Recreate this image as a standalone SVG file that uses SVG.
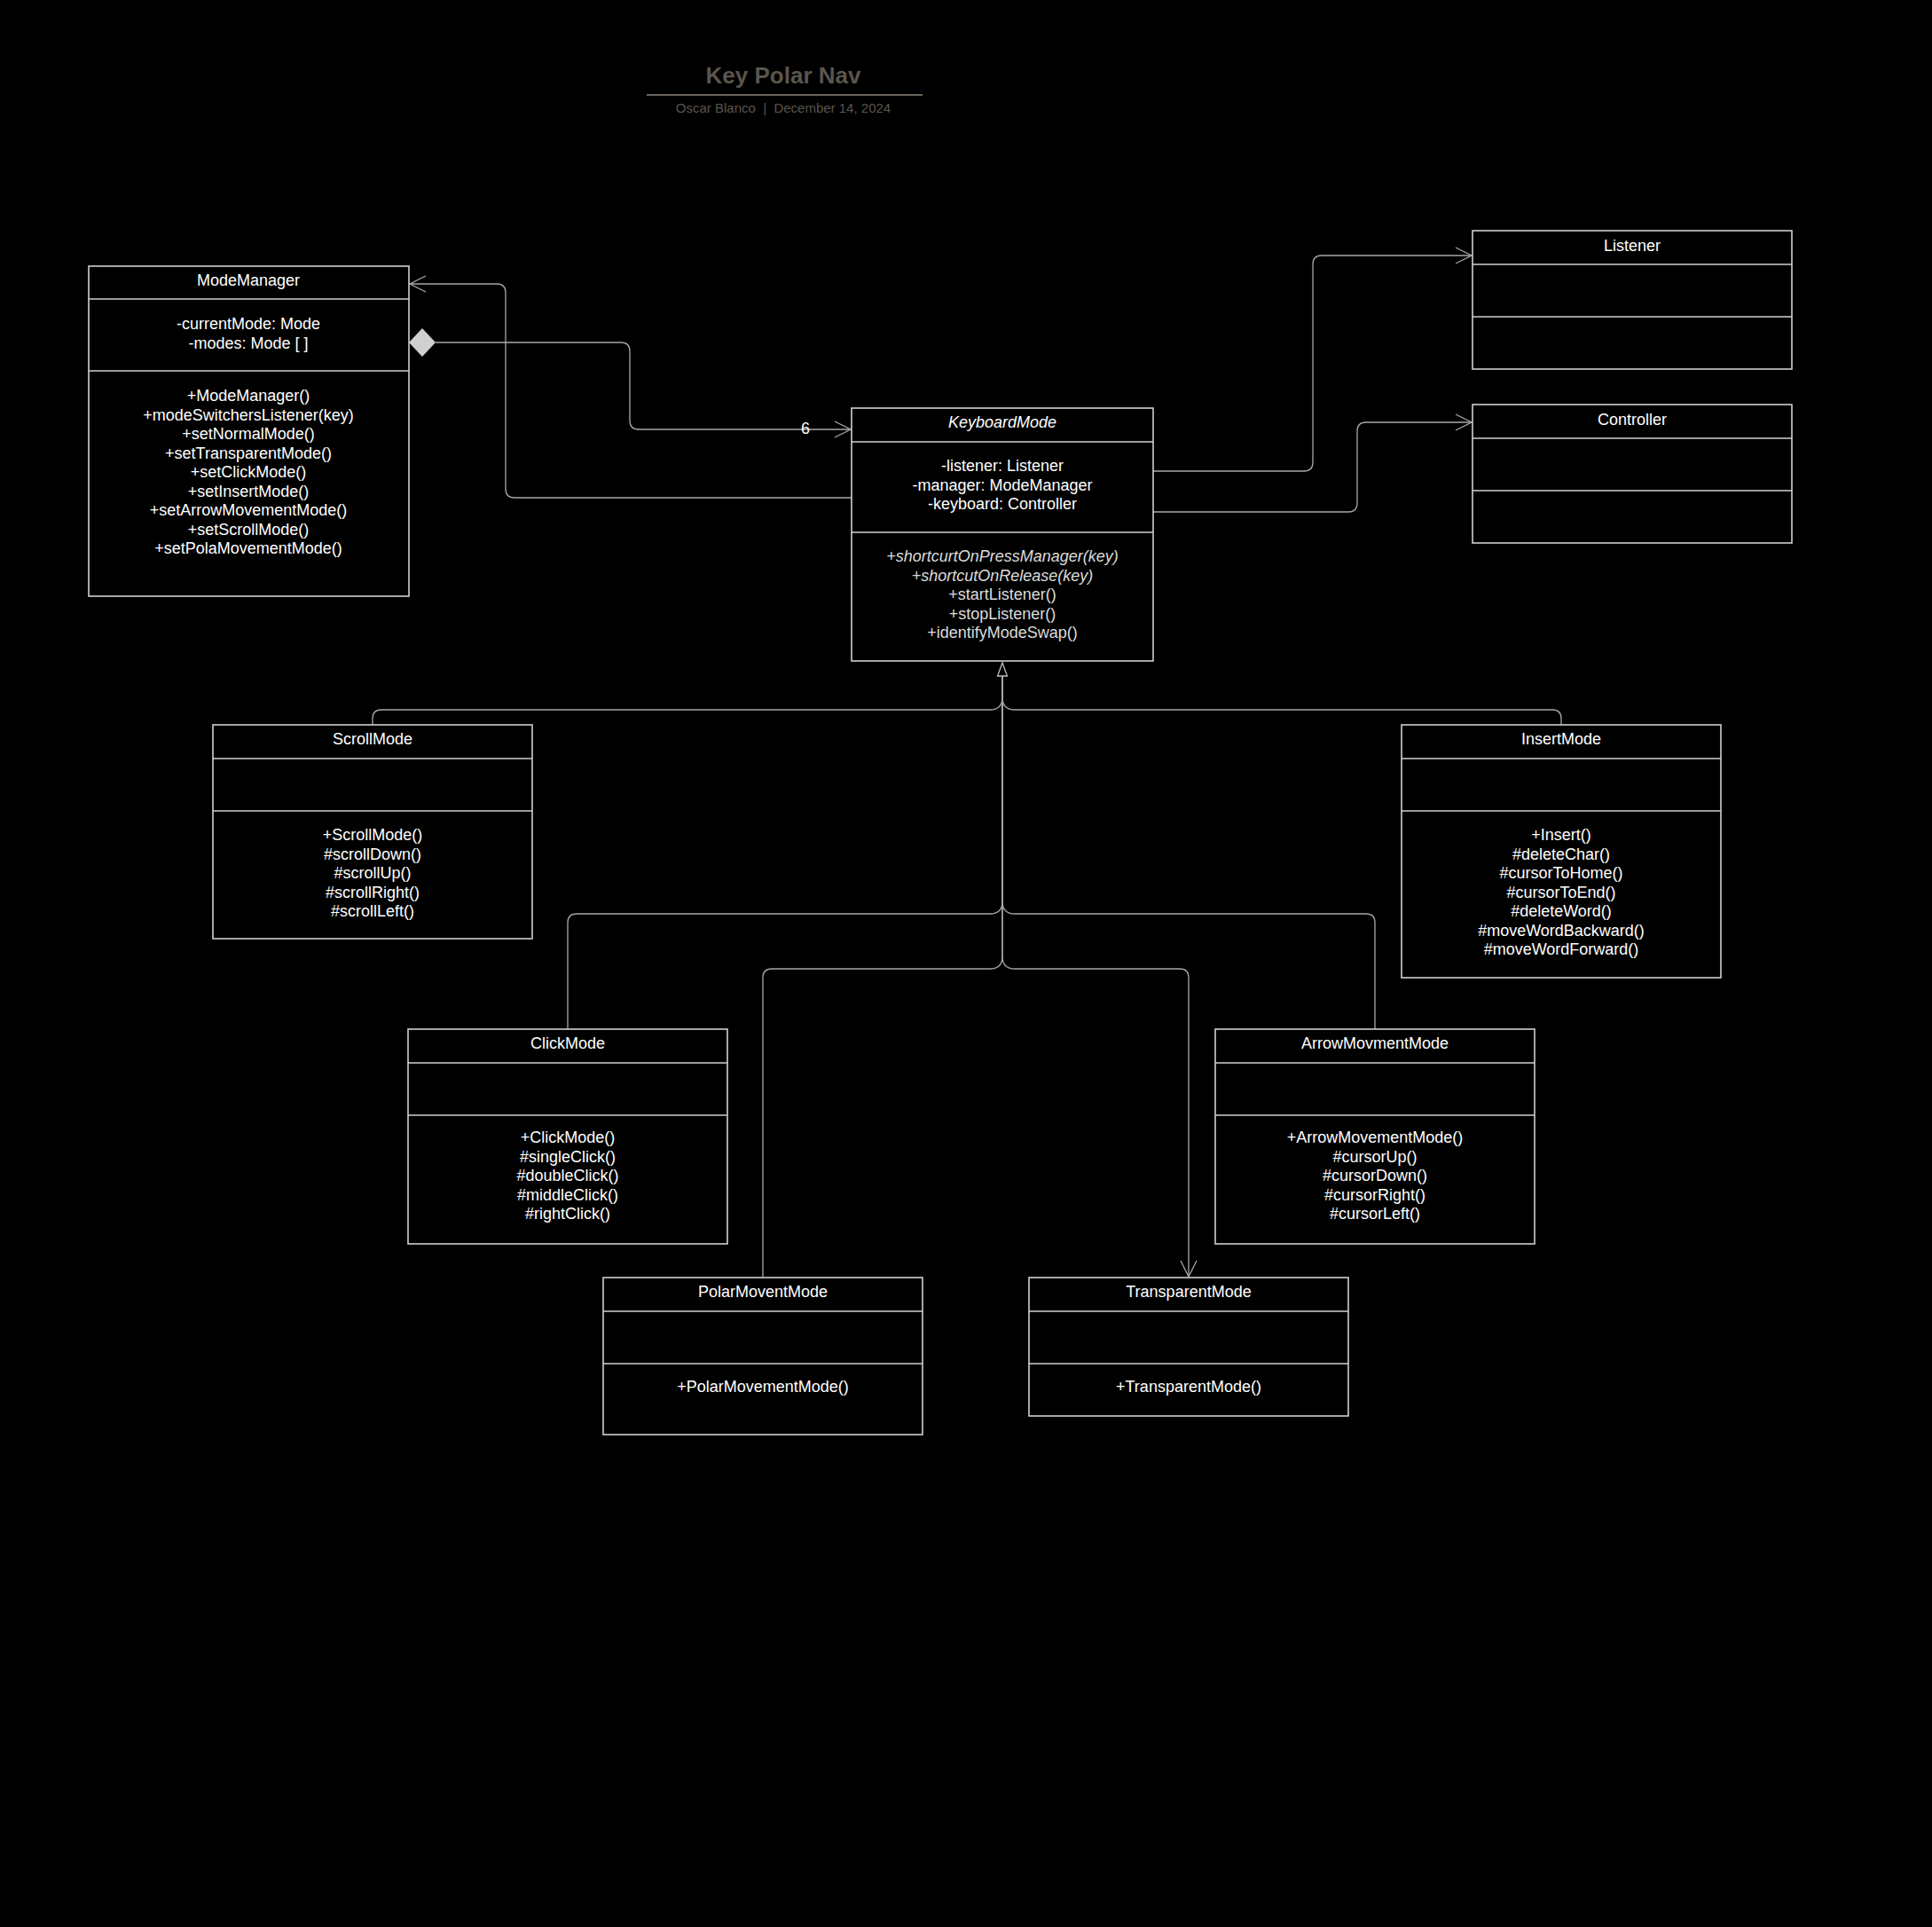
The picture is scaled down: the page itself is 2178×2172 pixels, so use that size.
<svg xmlns="http://www.w3.org/2000/svg" width="2178" height="2172" viewBox="0 0 2178 2172">
<style>
.box{fill:#000;stroke:#d0d0d0;stroke-width:1.6}
.div{stroke:#d0d0d0;stroke-width:1.6}
.t{font-family:"Liberation Sans",Arial,sans-serif;font-size:18px;fill:#fff;text-anchor:middle}
.m{fill:#dcdcdc}
.i{font-style:italic}
.c{fill:none;stroke:#a8a8a8;stroke-width:1.3}
</style>
<defs>
<marker id="open" viewBox="0 0 20 20" refX="19" refY="10" markerWidth="20" markerHeight="20" markerUnits="userSpaceOnUse" orient="auto">
<path d="M1,1 L19,10 L1,19" fill="none" stroke="#a8a8a8" stroke-width="1.3"/>
</marker>
</defs>
<rect x="0" y="0" width="2178" height="2172" fill="#000"/>

<g id="title">
<text x="883" y="94" font-family="Liberation Sans,Arial,sans-serif" font-size="26" font-weight="bold" fill="#5a554d" text-anchor="middle">Key Polar Nav</text>
<line x1="729" y1="107" x2="1040" y2="107" stroke="#6a645b" stroke-width="2"/>
<text x="883" y="127" font-family="Liberation Sans,Arial,sans-serif" font-size="15" fill="#5a554d" text-anchor="middle" style="white-space:pre">Oscar Blanco  |  December 14, 2024</text>
</g>

<g id="connectors">
<path class="c" d="M960,561 H580 Q570,561 570,551 V330 Q570,320 560,320 H462" marker-end="url(#open)"/>
<path class="c" d="M491,386 H700 Q710,386 710,396 V474 Q710,484 720,484 H959" marker-end="url(#open)"/>
<path d="M461,386 L476,370 L491,386 L476,402 Z" fill="#d0d0d0"/>
<text class="t" x="908" y="489">6</text>
<path class="c" d="M1300,531 H1470 Q1480,531 1480,521 V298 Q1480,288 1490,288 H1659" marker-end="url(#open)"/>
<path class="c" d="M1300,577 H1520 Q1530,577 1530,567 V486 Q1530,476 1540,476 H1659" marker-end="url(#open)"/>
<path class="c" d="M420,817 V810 Q420,800 430,800 H1116 Q1130,800 1130,786 V762"/>
<path class="c" d="M1760,817 V810 Q1760,800 1750,800 H1144 Q1130,800 1130,786 V762"/>
<path class="c" d="M640,1160 V1040 Q640,1030 650,1030 H1116 Q1130,1030 1130,1016 V762"/>
<path class="c" d="M1550,1160 V1040 Q1550,1030 1540,1030 H1144 Q1130,1030 1130,1016 V762"/>
<path class="c" d="M860,1440 V1102 Q860,1092 870,1092 H1116 Q1130,1092 1130,1078 V762"/>
<path class="c" d="M1130,762 V1078 Q1130,1092 1144,1092 H1330 Q1340,1092 1340,1102 V1439" marker-end="url(#open)"/>
<path d="M1130,747 L1135.5,762 L1124.5,762 Z" fill="#000" stroke="#c0c0c0" stroke-width="1.3"/>
</g>

<g id="ModeManager">
<rect class="box" x="100" y="300" width="361" height="372"/>
<line class="div" x1="100" y1="337" x2="461" y2="337"/>
<line class="div" x1="100" y1="418" x2="461" y2="418"/>
<text class="t" x="280" y="322">ModeManager</text>
<text class="t" x="280" y="371">-currentMode: Mode</text>
<text class="t" x="280" y="392.5">-modes: Mode [ ]</text>
<text class="t" x="280" y="452">+ModeManager()</text>
<text class="t" x="280" y="473.5">+modeSwitchersListener(key)</text>
<text class="t" x="280" y="495">+setNormalMode()</text>
<text class="t" x="280" y="516.5">+setTransparentMode()</text>
<text class="t" x="280" y="538">+setClickMode()</text>
<text class="t" x="280" y="559.5">+setInsertMode()</text>
<text class="t" x="280" y="581">+setArrowMovementMode()</text>
<text class="t" x="280" y="602.5">+setScrollMode()</text>
<text class="t" x="280" y="624">+setPolaMovementMode()</text>
</g>

<g id="KeyboardMode">
<rect class="box" x="960" y="460" width="340" height="285"/>
<line class="div" x1="960" y1="498" x2="1300" y2="498"/>
<line class="div" x1="960" y1="600" x2="1300" y2="600"/>
<text class="t i" x="1130" y="482">KeyboardMode</text>
<text class="t" x="1130" y="531">-listener: Listener</text>
<text class="t" x="1130" y="552.5">-manager: ModeManager</text>
<text class="t" x="1130" y="574">-keyboard: Controller</text>
<text class="t m i" x="1130" y="633">+shortcurtOnPressManager(key)</text>
<text class="t m i" x="1130" y="654.5">+shortcutOnRelease(key)</text>
<text class="t m" x="1130" y="676">+startListener()</text>
<text class="t m" x="1130" y="697.5">+stopListener()</text>
<text class="t m" x="1130" y="719">+identifyModeSwap()</text>
</g>

<g id="Listener">
<rect class="box" x="1660" y="260" width="360" height="156"/>
<line class="div" x1="1660" y1="298" x2="2020" y2="298"/>
<line class="div" x1="1660" y1="357" x2="2020" y2="357"/>
<text class="t" x="1840" y="283">Listener</text>
</g>

<g id="Controller">
<rect class="box" x="1660" y="456" width="360" height="156"/>
<line class="div" x1="1660" y1="494" x2="2020" y2="494"/>
<line class="div" x1="1660" y1="553" x2="2020" y2="553"/>
<text class="t" x="1840" y="479">Controller</text>
</g>

<g id="ScrollMode">
<rect class="box" x="240" y="817" width="360" height="241"/>
<line class="div" x1="240" y1="855" x2="600" y2="855"/>
<line class="div" x1="240" y1="914" x2="600" y2="914"/>
<text class="t" x="420" y="839">ScrollMode</text>
<text class="t" x="420" y="947">+ScrollMode()</text>
<text class="t" x="420" y="968.5">#scrollDown()</text>
<text class="t" x="420" y="990">#scrollUp()</text>
<text class="t" x="420" y="1011.5">#scrollRight()</text>
<text class="t" x="420" y="1033">#scrollLeft()</text>
</g>

<g id="InsertMode">
<rect class="box" x="1580" y="817" width="360" height="285"/>
<line class="div" x1="1580" y1="855" x2="1940" y2="855"/>
<line class="div" x1="1580" y1="914" x2="1940" y2="914"/>
<text class="t" x="1760" y="839">InsertMode</text>
<text class="t" x="1760" y="947">+Insert()</text>
<text class="t" x="1760" y="968.5">#deleteChar()</text>
<text class="t" x="1760" y="990">#cursorToHome()</text>
<text class="t" x="1760" y="1011.5">#cursorToEnd()</text>
<text class="t" x="1760" y="1033">#deleteWord()</text>
<text class="t" x="1760" y="1054.5">#moveWordBackward()</text>
<text class="t" x="1760" y="1076">#moveWordForward()</text>
</g>

<g id="ClickMode">
<rect class="box" x="460" y="1160" width="360" height="242"/>
<line class="div" x1="460" y1="1198" x2="820" y2="1198"/>
<line class="div" x1="460" y1="1257" x2="820" y2="1257"/>
<text class="t" x="640" y="1182">ClickMode</text>
<text class="t" x="640" y="1288">+ClickMode()</text>
<text class="t" x="640" y="1309.5">#singleClick()</text>
<text class="t" x="640" y="1331">#doubleClick()</text>
<text class="t" x="640" y="1352.5">#middleClick()</text>
<text class="t" x="640" y="1374">#rightClick()</text>
</g>

<g id="ArrowMovmentMode">
<rect class="box" x="1370" y="1160" width="360" height="242"/>
<line class="div" x1="1370" y1="1198" x2="1730" y2="1198"/>
<line class="div" x1="1370" y1="1257" x2="1730" y2="1257"/>
<text class="t" x="1550" y="1182">ArrowMovmentMode</text>
<text class="t" x="1550" y="1288">+ArrowMovementMode()</text>
<text class="t" x="1550" y="1309.5">#cursorUp()</text>
<text class="t" x="1550" y="1331">#cursorDown()</text>
<text class="t" x="1550" y="1352.5">#cursorRight()</text>
<text class="t" x="1550" y="1374">#cursorLeft()</text>
</g>

<g id="PolarMoventMode">
<rect class="box" x="680" y="1440" width="360" height="177"/>
<line class="div" x1="680" y1="1478" x2="1040" y2="1478"/>
<line class="div" x1="680" y1="1537" x2="1040" y2="1537"/>
<text class="t" x="860" y="1462">PolarMoventMode</text>
<text class="t" x="860" y="1569">+PolarMovementMode()</text>
</g>

<g id="TransparentMode">
<rect class="box" x="1160" y="1440" width="360" height="156"/>
<line class="div" x1="1160" y1="1478" x2="1520" y2="1478"/>
<line class="div" x1="1160" y1="1537" x2="1520" y2="1537"/>
<text class="t" x="1340" y="1462">TransparentMode</text>
<text class="t" x="1340" y="1569">+TransparentMode()</text>
</g>
</svg>
